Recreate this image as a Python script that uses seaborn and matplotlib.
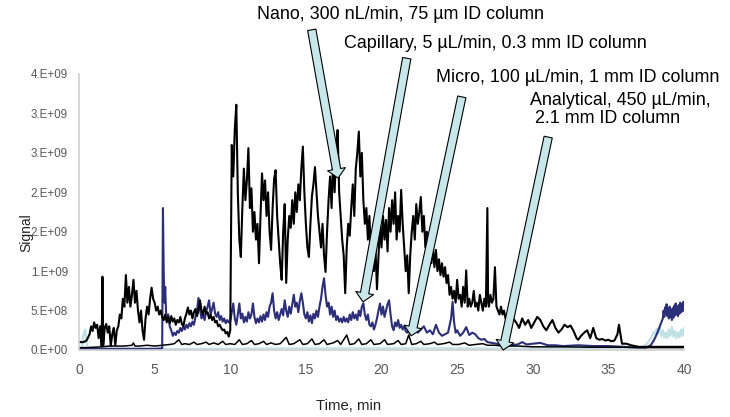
import numpy as np
import pandas as pd
import matplotlib
matplotlib.use("Agg")
import matplotlib.pyplot as plt
from matplotlib.ticker import FuncFormatter, FixedLocator
import seaborn as sns
import math

# ---------------- data (signal in units of 1e8) ----------------
nano_time = [0.0, 0.3, 0.5, 0.7, 0.8, 0.9, 1.0, 1.1, 1.2, 1.3, 1.4, 1.5, 1.55, 1.6, 1.7, 1.8, 1.9, 2.0, 2.1, 2.2,
             2.3, 2.4, 2.5, 2.6, 2.7, 2.8, 2.9, 3.0, 3.1, 3.2, 3.3, 3.4, 3.5, 3.6, 3.7, 3.8, 3.9, 4.0, 4.1, 4.2,
             4.3, 4.4, 4.5, 4.6, 4.7, 4.8, 4.9, 5.0, 5.1, 5.2, 5.3, 5.4, 5.5, 5.6, 5.7, 5.8, 5.9, 6.0, 6.1, 6.2,
             6.3, 6.4, 6.5, 6.6, 6.7, 6.8, 6.9, 7.0, 7.1, 7.2, 7.3, 7.4, 7.5, 7.6, 7.7, 7.8, 7.9, 8.0, 8.1, 8.2,
             8.3, 8.4, 8.5, 8.6, 8.7, 8.8, 8.9, 9.0, 9.1, 9.2, 9.3, 9.4, 9.5, 9.6, 9.7, 9.8, 9.9, 10.0, 10.1, 10.2,
             10.3, 10.4, 10.5, 10.6, 10.7, 10.8, 10.9, 11.0, 11.1, 11.2, 11.3, 11.4, 11.5, 11.6, 11.7, 11.8, 11.9, 12.0, 12.1, 12.2,
             12.3, 12.4, 12.5, 12.6, 12.7, 12.8, 12.9, 13.0, 13.1, 13.2, 13.3, 13.4, 13.5, 13.6, 13.7, 13.8, 13.9, 14.0, 14.1, 14.2,
             14.3, 14.4, 14.5, 14.6, 14.7, 14.8, 14.9, 15.0, 15.1, 15.2, 15.3, 15.4, 15.5, 15.6, 15.7, 15.8, 15.9, 16.0, 16.1, 16.2,
             16.3, 16.4, 16.5, 16.6, 16.7, 16.8, 16.9, 17.0, 17.1, 17.2, 17.3, 17.4, 17.5, 17.6, 17.7, 17.8, 17.9, 18.0, 18.1, 18.2,
             18.3, 18.4, 18.5, 18.6, 18.7, 18.8, 18.9, 19.0, 19.1, 19.2, 19.3, 19.4, 19.5, 19.6, 19.7, 19.8, 19.9, 20.0, 20.1, 20.2,
             20.3, 20.4, 20.5, 20.6, 20.7, 20.8, 20.9, 21.0, 21.1, 21.2, 21.3, 21.4, 21.5, 21.6, 21.7, 21.8, 21.9, 22.0, 22.1, 22.2,
             22.3, 22.4, 22.5, 22.6, 22.7, 22.8, 22.9, 23.0, 23.1, 23.2, 23.3, 23.4, 23.5, 23.6, 23.7, 23.8, 23.9, 24.0, 24.1, 24.2,
             24.3, 24.4, 24.5, 24.6, 24.7, 24.8, 24.9, 25.0, 25.1, 25.2, 25.3, 25.4, 25.5, 25.6, 25.7, 25.8, 25.9, 26.0, 26.1, 26.2,
             26.3, 26.4, 26.5, 26.6, 26.7, 26.8, 26.9, 27.0, 27.05, 27.1, 27.2, 27.3, 27.4, 27.5, 27.6, 27.7, 27.8, 27.9, 28.0, 28.1,
             28.2, 28.3, 28.5, 28.7, 28.9, 29.1, 29.3, 29.5, 29.7, 29.9, 30.1, 30.3, 30.5, 30.7, 30.9, 31.1, 31.3, 31.5, 31.7, 31.9,
             32.1, 32.3, 32.5, 32.7, 32.9, 33.0, 33.2, 33.4, 33.6, 33.8, 34.0, 34.2, 34.4, 34.6, 34.8, 35.0, 35.2, 35.4, 35.6, 35.7,
             35.8, 35.9, 36.2, 36.5, 37.0, 38.0, 39.0, 40.0]
nano_signal = [1.0, 1.0, 1.2, 2.0, 3.0, 2.4, 3.5, 2.8, 3.2, 1.5, 3.0, 0.5, 9.3, 0.6, 2.8, 3.3, 2.2, 3.0, 0.5, 2.0,
               2.8, 0.6, 2.5, 3.0, 4.5, 4.0, 6.5, 5.5, 9.5, 6.0, 8.0, 5.5, 7.0, 8.9, 6.0, 7.5, 5.0, 3.5, 5.0, 2.5,
               1.3, 4.0, 5.5, 4.5, 6.5, 7.9, 6.5, 6.0, 5.0, 5.5, 4.5, 5.0, 4.2, 3.8, 4.5, 3.5, 4.2, 3.4, 4.3, 3.6,
               4.0, 3.2, 3.8, 3.5, 4.2, 3.3, 3.0, 4.0, 4.6, 5.4, 4.5, 5.0, 4.0, 4.8, 5.2, 4.3, 5.0, 6.3, 5.0, 4.5,
               5.5, 4.6, 4.8, 4.0, 4.5, 3.8, 4.2, 3.5, 3.7, 3.0, 3.2, 2.8, 2.5, 2.6, 2.1, 2.3, 1.7, 2.5, 26.0, 22.0,
               28.0, 31.1, 20.0, 14.0, 11.8, 18.0, 23.0, 19.0, 21.5, 25.6, 18.0, 20.5, 15.0, 17.5, 14.0, 16.0, 11.0, 17.0, 22.4, 19.0,
               21.5, 17.0, 20.0, 15.0, 12.7, 18.0, 21.7, 22.8, 17.0, 14.0, 11.0, 8.9, 15.0, 18.5, 8.5, 14.0, 17.0, 15.5, 19.0, 16.0,
               20.0, 17.5, 21.0, 19.0, 23.0, 25.8, 20.0, 16.0, 13.0, 11.8, 16.0, 19.5, 21.0, 23.2, 20.0, 17.0, 15.0, 13.0, 16.0, 12.0,
               9.9, 15.0, 19.0, 22.0, 18.0, 24.0, 20.0, 25.0, 27.9, 20.0, 17.0, 14.0, 12.0, 7.2, 13.0, 16.0, 14.5, 18.0, 21.0, 17.0,
               23.0, 25.0, 27.7, 22.0, 25.0, 19.0, 16.0, 18.0, 14.0, 17.0, 12.0, 15.0, 10.0, 13.0, 7.7, 12.0, 16.0, 13.0, 17.0, 14.0,
               16.5, 12.5, 18.0, 15.0, 19.0, 16.0, 20.0, 14.0, 17.0, 15.0, 20.3, 16.0, 13.0, 10.0, 12.0, 7.2, 12.0, 15.0, 17.0, 14.0,
               18.5, 16.0, 17.5, 19.4, 15.0, 17.0, 13.0, 15.0, 12.0, 14.0, 11.0, 13.0, 10.5, 12.7, 10.0, 11.5, 9.5, 11.0, 9.3, 10.5,
               8.5, 9.5, 7.0, 8.0, 6.5, 7.5, 6.0, 8.9, 6.5, 7.0, 5.5, 8.0, 6.0, 10.1, 5.5, 6.5, 5.5, 6.0, 7.5, 5.5,
               6.0, 5.0, 7.0, 6.0, 5.0, 6.5, 5.5, 18.0, 6.0, 5.5, 7.0, 6.0, 6.5, 10.5, 5.5, 5.0, 4.5, 5.5, 4.5, 5.0,
               4.0, 4.2, 3.0, 4.0, 3.5, 2.8, 4.0, 3.2, 3.8, 2.8, 3.5, 4.2, 3.8, 3.0, 2.5, 3.2, 3.8, 2.8, 2.2, 2.6,
               3.2, 2.9, 3.1, 2.4, 1.5, 1.3, 1.8, 2.2, 2.5, 1.5, 2.8, 1.5, 1.3, 1.4, 1.2, 1.3, 1.1, 1.2, 2.0, 3.2,
               2.0, 0.8, 0.8, 0.6, 0.4, 0.4, 0.4, 0.4]

cap_time = [0.0, 1.0, 2.0, 3.0, 4.0, 5.0, 5.5, 5.55, 5.6, 5.65, 5.7, 5.75, 5.8, 5.9, 6.0, 6.1, 6.2, 6.3, 6.4, 6.5,
            6.6, 6.7, 6.8, 6.9, 7.0, 7.1, 7.2, 7.3, 7.4, 7.5, 7.6, 7.7, 7.8, 7.9, 8.0, 8.1, 8.2, 8.3, 8.4, 8.5,
            8.6, 8.7, 8.8, 8.9, 9.0, 9.1, 9.2, 9.3, 9.4, 9.5, 9.6, 9.7, 9.8, 9.9, 10.0, 10.1, 10.2, 10.3, 10.4, 10.5,
            10.6, 10.7, 10.8, 10.9, 11.0, 11.1, 11.2, 11.3, 11.4, 11.5, 11.6, 11.7, 11.8, 11.9, 12.0, 12.1, 12.2, 12.3, 12.4, 12.5,
            12.6, 12.7, 12.8, 12.9, 13.0, 13.1, 13.2, 13.3, 13.4, 13.5, 13.6, 13.7, 13.8, 13.9, 14.0, 14.1, 14.2, 14.3, 14.4, 14.5,
            14.6, 14.7, 14.8, 14.9, 15.0, 15.1, 15.2, 15.3, 15.4, 15.5, 15.6, 15.7, 15.8, 15.9, 16.0, 16.1, 16.2, 16.3, 16.4, 16.5,
            16.6, 16.7, 16.8, 16.9, 17.0, 17.1, 17.2, 17.3, 17.4, 17.5, 17.6, 17.7, 17.8, 17.9, 18.0, 18.1, 18.2, 18.3, 18.4, 18.5,
            18.6, 18.7, 18.8, 18.9, 19.0, 19.1, 19.2, 19.3, 19.4, 19.5, 19.6, 19.7, 19.8, 19.9, 20.0, 20.1, 20.2, 20.3, 20.4, 20.5,
            20.6, 20.7, 20.8, 20.9, 21.0, 21.1, 21.2, 21.3, 21.4, 21.5, 21.6, 21.7, 21.8, 21.9, 22.0, 22.2, 22.4, 22.6, 22.8, 23.0,
            23.2, 23.4, 23.6, 23.8, 24.0, 24.2, 24.4, 24.6, 24.7, 24.8, 24.9, 25.0, 25.2, 25.4, 25.6, 25.8, 26.0, 26.2, 26.4, 26.6,
            26.8, 27.0, 27.3, 27.6, 28.0, 28.5, 29.0, 29.3, 29.6, 30.0, 30.5, 31.0, 31.5, 32.0, 33.0, 34.0, 35.0, 36.0, 37.0, 37.5,
            37.8, 38.0, 38.2, 38.4, 38.6, 38.65, 38.7, 38.75, 38.8, 38.85, 38.9, 38.95, 39.0, 39.05, 39.1, 39.15, 39.2, 39.25, 39.3, 39.35,
            39.4, 39.45, 39.5, 39.55, 39.6, 39.65, 39.7, 39.75, 39.8, 39.85, 39.9, 39.95, 40.0]
cap_signal = [0.15, 0.15, 0.15, 0.15, 0.15, 0.15, 0.2, 18.0, 10.0, 6.0, 8.0, 5.0, 4.0, 4.5, 3.0, 2.5, 1.8, 2.2, 1.9, 2.4,
              2.2, 2.8, 2.4, 3.0, 2.6, 3.2, 2.8, 3.4, 3.0, 3.6, 3.2, 4.2, 5.0, 6.6, 5.2, 4.0, 4.6, 3.8, 4.8, 5.5,
              6.3, 4.5, 5.2, 6.0, 4.6, 4.2, 4.8, 3.8, 4.3, 3.6, 4.0, 3.4, 3.8, 3.5, 3.6, 4.8, 5.9, 4.0, 3.2, 4.5,
              5.9, 4.0, 4.6, 3.5, 4.2, 3.6, 4.8, 4.0, 4.5, 5.9, 4.2, 3.4, 4.0, 3.5, 4.3, 3.6, 4.5, 3.8, 4.8, 4.2,
              5.5, 6.0, 7.2, 5.0, 4.0, 4.8, 3.8, 4.5, 5.2, 4.4, 6.3, 5.0, 4.2, 5.5, 4.6, 5.8, 7.0, 5.5, 6.0, 4.8,
              6.2, 7.2, 6.0, 4.5, 4.0, 4.8, 3.6, 4.4, 3.4, 4.6, 4.0, 5.0, 4.2, 5.5, 6.5, 8.0, 9.1, 7.0, 5.5, 6.0,
              4.5, 5.5, 4.2, 5.0, 3.8, 4.3, 3.6, 4.0, 3.5, 4.2, 3.6, 4.0, 3.5, 4.5, 3.8, 4.8, 4.0, 4.5, 3.8, 5.0,
              4.3, 5.5, 5.9, 4.5, 3.8, 4.5, 3.2, 3.0, 3.5, 2.6, 3.2, 4.0, 5.0, 5.9, 4.5, 5.5, 4.2, 5.0, 5.8, 6.3,
              4.5, 3.0, 2.5, 3.5, 3.0, 3.8, 2.8, 3.2, 2.6, 3.0, 2.4, 2.2, 2.5, 2.0, 2.4, 2.8, 2.2, 2.6, 3.0, 2.2,
              2.5, 2.0, 3.2, 2.2, 1.8, 2.0, 2.2, 4.0, 6.1, 3.5, 2.2, 2.5, 1.8, 2.2, 2.9, 1.9, 2.2, 2.0, 1.5, 1.3,
              1.4, 1.0, 0.9, 0.8, 0.6, 0.6, 0.7, 1.0, 0.7, 0.8, 0.9, 0.6, 0.6, 0.5, 0.6, 0.5, 0.5, 0.4, 0.3, 0.3,
              0.6, 1.2, 2.0, 3.0, 4.0, 5.0, 4.2, 5.4, 4.6, 5.8, 4.3, 5.2, 4.0, 5.5, 4.2, 5.0, 3.8, 5.3, 4.1, 5.6,
              4.4, 5.9, 4.5, 5.4, 4.3, 5.7, 4.6, 6.0, 4.8, 5.8, 4.9, 6.1, 5.5]

micro_time = [0.0, 0.5, 1.0, 1.5, 2.0, 2.5, 3.0, 3.5, 3.6, 3.7, 4.0, 4.5, 5.0, 5.5, 6.0, 6.3, 6.6, 6.8, 7.0, 7.3,
              7.6, 7.8, 8.1, 8.4, 8.6, 8.9, 9.2, 9.5, 9.7, 10.0, 10.3, 10.6, 10.8, 11.1, 11.4, 11.6, 11.9, 12.2, 12.4, 12.7,
              13.0, 13.3, 13.7, 13.9, 14.2, 14.6, 14.8, 15.1, 15.4, 15.6, 15.9, 16.2, 16.4, 16.8, 17.1, 17.3, 17.7, 17.9, 18.2, 18.5,
              18.7, 19.0, 19.3, 19.5, 19.9, 20.2, 20.4, 20.8, 21.1, 21.3, 21.6, 21.8, 22.0, 22.3, 22.6, 22.8, 23.2, 23.5, 23.7, 24.1,
              24.5, 24.7, 25.1, 25.5, 25.8, 26.2, 26.7, 27.0, 27.5, 28.0, 29.0, 30.0, 31.0, 32.0, 34.0, 36.0, 38.0, 39.0, 40.0]
micro_signal = [0.3, 0.3, 0.35, 0.4, 0.5, 0.5, 0.5, 0.6, 0.9, 0.5, 0.5, 0.6, 0.5, 0.6, 0.7, 0.8, 1.3, 0.7, 0.8, 0.7,
                1.0, 0.7, 0.8, 1.0, 0.7, 0.9, 0.7, 1.1, 0.7, 0.8, 0.7, 1.3, 0.7, 0.8, 1.2, 0.7, 0.8, 1.1, 0.7, 0.9,
                0.7, 0.8, 1.6, 0.7, 0.8, 1.3, 0.7, 0.8, 1.4, 0.7, 0.8, 1.3, 0.7, 0.9, 1.2, 0.7, 1.9, 0.7, 0.8, 1.4,
                0.7, 0.8, 1.3, 0.7, 0.8, 1.3, 0.7, 0.8, 1.2, 0.7, 0.8, 1.9, 0.7, 0.8, 1.1, 0.7, 0.8, 1.0, 0.7, 0.8,
                1.0, 0.7, 0.7, 0.9, 0.6, 0.7, 0.8, 0.6, 0.6, 0.5, 0.5, 0.4, 0.4, 0.4, 0.35, 0.35, 0.3, 0.3, 0.3]

anal_time = [0.0, 0.2, 0.3, 0.4, 0.5, 0.6, 1.0, 5.0, 10.0, 15.0, 20.0, 25.0, 30.0, 35.0, 37.0, 37.3, 37.5, 37.7, 37.9, 38.0,
             38.1, 38.2, 38.3, 38.4, 38.5, 38.6, 38.7, 38.8, 38.9, 39.0, 39.1, 39.2, 39.3, 39.4, 39.5, 39.6, 39.7, 39.8, 39.9, 40.0]
anal_signal = [0.1, 0.3, 2.0, 2.6, 1.0, 0.2, 0.1, 0.1, 0.15, 0.2, 0.2, 0.2, 0.15, 0.2, 0.3, 0.4, 0.7, 1.2, 1.8, 2.3,
               2.0, 2.7, 2.1, 2.9, 1.8, 2.5, 1.6, 2.2, 1.5, 2.6, 1.8, 2.9, 1.7, 2.4, 1.5, 2.2, 1.6, 2.6, 1.8, 2.8]

SCALE = 1e8
x_ticks = [0, 5, 10, 15, 20, 25, 30, 35, 40]
y_ticks = [0, 5e8, 1e9, 1.5e9, 2e9, 2.5e9, 3e9, 3.5e9]

labels = ["Nano, 300 nL/min, 75 µm ID column",
          "Capillary, 5 µL/min, 0.3 mm ID column",
          "Micro, 100 µL/min, 1 mm ID column",
          "Analytical, 450 µL/min,\n 2.1 mm ID column"]
# arrow tips (time, signal/1e8), arrow tails, text anchors
arrow_tips = [(17.13, 21.8), (18.78, 6.1), (21.96, 1.8), (28.04, 0.0)]
arrow_tails = [(15.39, 40.6), (21.67, 37.0), (25.31, 32.1), (31.02, 27.0)]
text_pos = [(21.23, 42.5), (27.5, 38.9), (33.0, 34.6), (29.83, 30.5)]
text_ha = ["center", "center", "center", "left"]

# ---------------- plotting ----------------
sns.set_style("white")
plt.rcParams["font.family"] = ["Liberation Sans", "DejaVu Sans"]

fig = plt.figure(figsize=(7.3, 4.17), dpi=100)
ax = fig.add_axes([79 / 730, 67 / 417, 605 / 730, 276 / 417])

NAVY = "#2b2e78"
LIGHT = "#bde1e5"

sns.lineplot(x=anal_time, y=np.array(anal_signal) * SCALE, ax=ax, color=LIGHT, lw=1.6)
sns.lineplot(x=cap_time, y=np.array(cap_signal) * SCALE, ax=ax, color=NAVY, lw=1.5)
sns.lineplot(x=micro_time, y=np.array(micro_signal) * SCALE, ax=ax, color="black", lw=1.1)
sns.lineplot(x=nano_time, y=np.array(nano_signal) * SCALE, ax=ax, color="black", lw=1.5)

ax.set_xlim(0, 40)
ax.set_ylim(0, 3.5e9)
ax.xaxis.set_major_locator(FixedLocator(x_ticks))
ax.yaxis.set_major_locator(FixedLocator(y_ticks))


def excel_sci(v, pos):
    if v == 0:
        return "0.E+00"
    e = int(math.floor(math.log10(abs(v))))
    m = int(math.floor(v / 10 ** e + 0.5))
    if m == 10:
        m, e = 1, e + 1
    return f"{m}.E+{e:02d}"


ax.yaxis.set_major_formatter(FuncFormatter(excel_sci))
ax.tick_params(axis="x", length=0, pad=9, labelsize=10, labelcolor="#595959")
ax.tick_params(axis="y", length=0, pad=8, labelsize=8.4, labelcolor="#595959")

for s in ["top", "right"]:
    ax.spines[s].set_visible(False)
for s in ["left", "bottom"]:
    ax.spines[s].set_color("#d0d0d0")
    ax.spines[s].set_linewidth(1.2)
ax.grid(False)

ax.set_xlabel("Time, min", fontsize=10.7, color="#222222")
ax.set_ylabel("Signal", fontsize=10, color="#222222")
ax.xaxis.set_label_coords((349 - 79) / 605, (350 - 399) / 276)
ax.yaxis.set_label_coords((33 - 79) / 605, (350 - 233) / 276)

for lab, tip, tail, tp, ha in zip(labels, arrow_tips, arrow_tails, text_pos, text_ha):
    ax.annotate("", xy=(tip[0], tip[1] * SCALE), xytext=(tail[0], tail[1] * SCALE),
                xycoords="data", textcoords="data", annotation_clip=False,
                arrowprops=dict(arrowstyle="simple,head_length=0.65,head_width=1.3,tail_width=0.6",
                                mutation_scale=10, fc="#c8e7ea", ec="black", lw=0.8,
                                shrinkA=0, shrinkB=0))
    ax.text(tp[0], tp[1] * SCALE, lab, ha=ha, va="center", fontsize=12.9,
            color="black", linespacing=1.05, clip_on=False)

fig.savefig("out.png", dpi=100)
